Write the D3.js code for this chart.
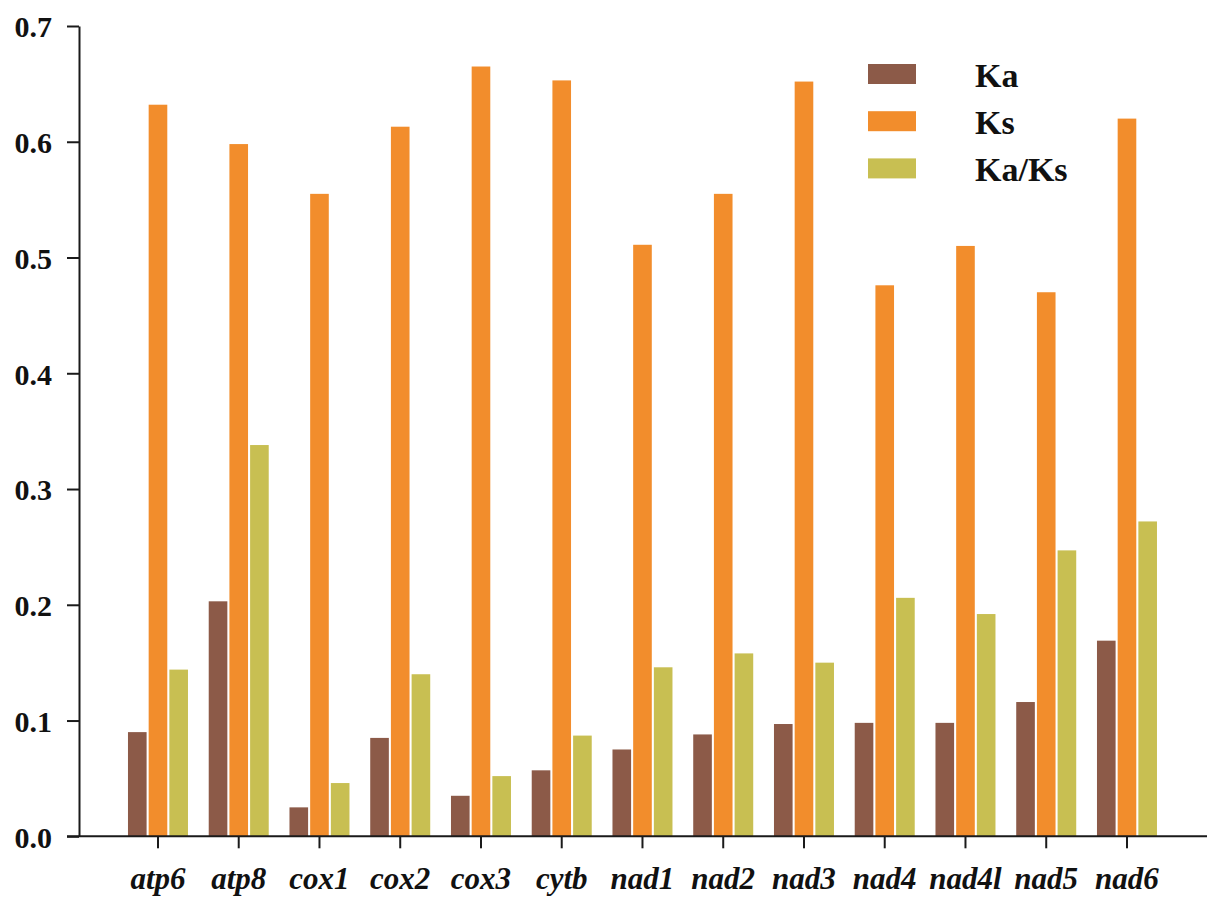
<!DOCTYPE html>
<html>
<head>
<meta charset="utf-8">
<script src="https://cdn.jsdelivr.net/npm/d3@7"></script>
<style>
  html, body { margin: 0; padding: 0; background: #fff; }
  svg { display: block; }
  text { font-family: "Liberation Serif", "Times New Roman", serif; font-weight: bold; fill: #111; }
</style>
</head>
<body>
<svg id="chart" width="1207" height="897"></svg>
<script>
// Genes along the x axis
const genes = ["atp6", "atp8", "cox1", "cox2", "cox3", "cytb", "nad1", "nad2", "nad3", "nad4", "nad4l", "nad5", "nad6"];
// Series names
const seriesNames = ["Ka", "Ks", "Ka/Ks"];
// Values per gene
const kaValues   = [0.090, 0.203, 0.025, 0.085, 0.035, 0.057, 0.075, 0.088, 0.097, 0.098, 0.098, 0.116, 0.169];
const ksValues   = [0.632, 0.598, 0.555, 0.613, 0.665, 0.653, 0.511, 0.555, 0.652, 0.476, 0.510, 0.470, 0.620];
const kaksValues = [0.144, 0.338, 0.046, 0.140, 0.052, 0.087, 0.146, 0.158, 0.150, 0.206, 0.192, 0.247, 0.272];
// Y axis tick values
const yTicks = [0.0, 0.1, 0.2, 0.3, 0.4, 0.5, 0.6, 0.7];

const colors = ["#8c5a48", "#f28d2c", "#c8bf52"];
const seriesValues = [kaValues, ksValues, kaksValues];

const svg = d3.select("#chart");

const axisX = 79, baseY = 836.3, topY = 26;

const y = d3.scaleLinear().domain([0, 0.7]).range([baseY, topY]);

const step = 80.75;
const x0 = d3.scaleBand()
  .domain(genes)
  .range([117.6, 117.6 + step * genes.length])
  .paddingInner(20.75 / step)
  .paddingOuter(20.75 / step / 2);

const x1 = d3.scaleBand()
  .domain(seriesNames)
  .range([0, x0.bandwidth()])
  .paddingInner(0.1);

const color = d3.scaleOrdinal().domain(seriesNames).range(colors);

// Bars
const rows = genes.map((g, i) => ({
  gene: g,
  values: seriesNames.map((s, j) => ({ key: s, value: seriesValues[j][i] }))
}));

const groups = svg.append("g").selectAll("g")
  .data(rows)
  .join("g")
  .attr("transform", d => `translate(${x0(d.gene)},0)`);

groups.selectAll("rect")
  .data(d => d.values)
  .join("rect")
  .attr("x", d => x1(d.key))
  .attr("width", x1.bandwidth())
  .attr("y", d => y(d.value))
  .attr("height", d => y(0) - y(d.value))
  .attr("fill", d => color(d.key));

// Y axis
const yAxis = d3.axisLeft(y)
  .tickValues(yTicks)
  .tickFormat(d3.format(".1f"))
  .tickSize(12)
  .tickSizeOuter(0)
  .tickPadding(15);

const gy = svg.append("g")
  .attr("transform", `translate(${axisX},0)`)
  .call(yAxis);
gy.select(".domain").attr("stroke", "#1a1a1a").attr("stroke-width", 2);
gy.selectAll(".tick line").attr("stroke", "#1a1a1a").attr("stroke-width", 2);
gy.selectAll(".tick text")
  .attr("font-size", 30)
  .attr("font-family", "Liberation Serif, serif")
  .attr("font-weight", "bold")
  .attr("fill", "#111")
  .attr("dy", "0.36em");

// X axis
const xAxis = d3.axisBottom(x0).tickSize(12).tickSizeOuter(0).tickPadding(0);
const gx = svg.append("g")
  .attr("transform", `translate(0,${baseY})`)
  .call(xAxis);
gx.select(".domain").remove();
gx.append("line")
  .attr("x1", 67).attr("x2", 1207)
  .attr("y1", 0).attr("y2", 0)
  .attr("stroke", "#1a1a1a").attr("stroke-width", 2);
gx.selectAll(".tick line").attr("stroke", "#1a1a1a").attr("stroke-width", 2);
gx.selectAll(".tick text")
  .attr("y", 53)
  .attr("dy", 0)
  .attr("font-size", 31)
  .attr("font-family", "Liberation Serif, serif")
  .attr("font-weight", "bold")
  .attr("font-style", "italic")
  .attr("fill", "#111");

// Legend
const legend = svg.append("g");
const legendItems = legend.selectAll("g")
  .data(seriesNames)
  .join("g")
  .attr("transform", (d, i) => `translate(868,${64 + i * 47.2})`);
legendItems.append("rect")
  .attr("width", 48).attr("height", 20)
  .attr("fill", d => color(d));
legendItems.append("text")
  .attr("x", 107).attr("y", 22.5)
  .attr("font-size", 34)
  .text(d => d);
</script>
</body>
</html>
